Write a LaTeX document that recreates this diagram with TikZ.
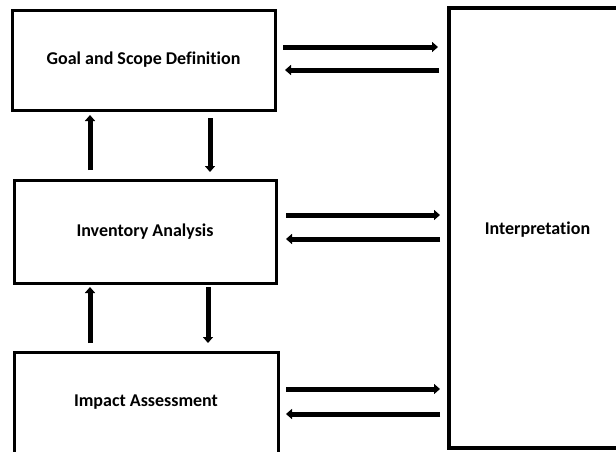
\documentclass[tikz,border=0pt]{standalone}
\usepackage{fontspec}
\setmainfont{Carlito}[Ligatures=NoCommon]
\usetikzlibrary{arrows.meta,calc}
\begin{document}
\begin{tikzpicture}[x=1pt,y=-1pt,
  txt/.style={font=\fontsize{18}{21}\selectfont\bfseries},
  box/.style={draw=black,line width=3pt,fill=white,outer sep=0pt,inner sep=0pt,txt},
  arr/.style={line width=5pt,-{Triangle[length=6pt,width=10pt]}}]
\useasboundingbox (0,0) rectangle (616,451);
\clip (0,0) rectangle (616,451);
\fill[white] (0,0) rectangle (616,451);
\node[box,minimum width=263pt,minimum height=100pt] (goal) at (143.5,60) {Goal and Scope Definition};
\node[box,minimum width=262pt,minimum height=103pt] (inv) at (145,231.5) {Inventory Analysis};
\node[box,minimum width=264pt,minimum height=101pt] (imp) at (146,402.5) {Impact Assessment};
\node[box,line width=4pt,minimum width=190pt,minimum height=440pt,anchor=north west,text width=0pt] (interp) at (449,8) {};
\node[txt] (itxt) at (537.5,230) {Interpretation};
% horizontal arrow start points
\coordinate (g1) at ([xshift=8pt,yshift=13pt]goal.east);
\coordinate (g2) at ([xshift=10pt,yshift=-10pt]goal.east);
\coordinate (i1) at ([xshift=10pt,yshift=16.5pt]inv.east);
\coordinate (i2) at ([xshift=10pt,yshift=-7.5pt]inv.east);
\coordinate (m1) at ([xshift=8pt,yshift=13.5pt]imp.east);
\coordinate (m2) at ([xshift=8pt,yshift=-11.5pt]imp.east);
\draw[arr,shorten >=11pt] (g1) -- (g1 -| interp.west);
\draw[arr,shorten <=10pt] (g2 -| interp.west) -- (g2);
\draw[arr,shorten >=9pt] (i1) -- (i1 -| interp.west);
\draw[arr,shorten <=9pt] (i2 -| interp.west) -- (i2);
\draw[arr,shorten >=9pt] (m1) -- (m1 -| interp.west);
\draw[arr,shorten <=9pt] (m2 -| interp.west) -- (m2);
% vertical arrows
\coordinate (u1) at (90,0);
\coordinate (d1) at (210,0);
\coordinate (d2) at (208,0);
\draw[arr,shorten <=10pt,shorten >=5pt] (u1 |- inv.north) -- (u1 |- goal.south);
\draw[arr,shorten <=8pt,shorten >=8pt] (d1 |- goal.south) -- (d1 |- inv.north);
\draw[arr,shorten <=9pt,shorten >=4pt] (u1 |- imp.north) -- (u1 |- inv.south);
\draw[arr,shorten <=4pt,shorten >=9pt] (d2 |- inv.south) -- (d2 |- imp.north);
\end{tikzpicture}
\end{document}
